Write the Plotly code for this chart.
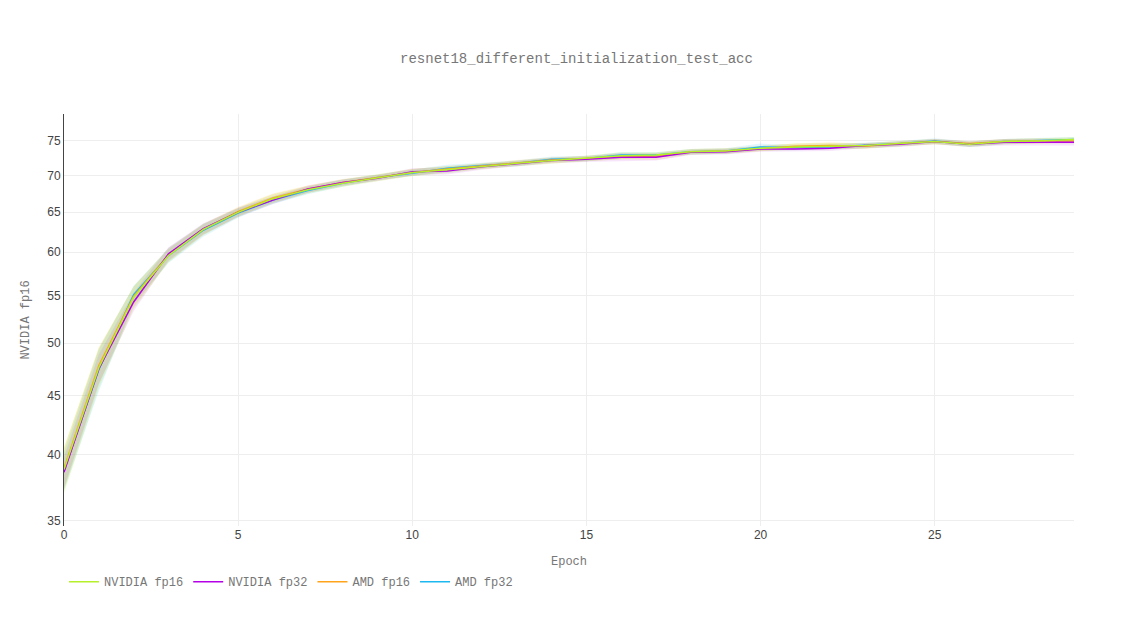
import plotly.graph_objects as go

epochs = list(range(30))

nv16 = [38.8, 47.6, 54.8, 59.6, 62.8, 65.0, 66.8, 68.0, 68.9, 69.6, 70.4, 70.8, 71.3, 71.7, 72.1, 72.4, 72.8, 72.9, 73.4, 73.5, 73.9, 74.1, 74.2, 74.3, 74.6, 74.9, 74.5, 74.9, 75.0, 75.2]
nv32 = [38.6, 47.5, 54.3, 59.8, 62.9, 65.0, 66.6, 68.1, 69.0, 69.6, 70.5, 70.6, 71.2, 71.6, 72.1, 72.3, 72.6, 72.6, 73.3, 73.4, 73.8, 73.8, 73.9, 74.3, 74.5, 74.9, 74.5, 74.8, 74.8, 74.8]
amd16 = [38.9, 47.8, 54.9, 59.7, 62.8, 65.1, 66.9, 68.1, 69.0, 69.7, 70.4, 70.9, 71.3, 71.8, 72.2, 72.4, 72.7, 72.7, 73.4, 73.5, 73.9, 74.2, 74.3, 74.2, 74.6, 74.9, 74.6, 74.9, 75.0, 75.0]
amd32 = [38.7, 47.4, 55.1, 59.6, 62.7, 64.9, 66.6, 67.9, 68.9, 69.7, 70.3, 71.0, 71.4, 71.7, 72.3, 72.4, 72.9, 72.9, 73.4, 73.5, 74.1, 74.0, 74.1, 74.3, 74.6, 75.0, 74.5, 74.9, 75.1, 75.2]

nv16_sd = [1.8, 1.9, 1.2, 0.8, 0.7, 0.6, 0.6, 0.5, 0.5, 0.5, 0.5, 0.5, 0.4, 0.4, 0.4, 0.4, 0.5, 0.4, 0.4, 0.4, 0.4, 0.5, 0.5, 0.4, 0.4, 0.4, 0.4, 0.4, 0.4, 0.4]
nv32_sd = [1.2, 1.4, 1.0, 0.8, 0.7, 0.6, 0.5, 0.5, 0.4, 0.4, 0.5, 0.5, 0.4, 0.4, 0.4, 0.4, 0.6, 0.5, 0.4, 0.4, 0.4, 0.4, 0.4, 0.4, 0.4, 0.4, 0.4, 0.5, 0.5, 0.5]
amd16_sd = [1.6, 1.8, 1.1, 0.8, 0.7, 0.6, 0.6, 0.5, 0.5, 0.4, 0.5, 0.4, 0.4, 0.4, 0.4, 0.4, 0.4, 0.5, 0.4, 0.4, 0.4, 0.4, 0.5, 0.4, 0.4, 0.4, 0.4, 0.4, 0.4, 0.4]
amd32_sd = [1.5, 2.0, 1.0, 0.9, 0.8, 0.6, 0.5, 0.5, 0.5, 0.4, 0.4, 0.5, 0.4, 0.4, 0.4, 0.4, 0.4, 0.4, 0.4, 0.4, 0.5, 0.4, 0.4, 0.4, 0.4, 0.4, 0.4, 0.4, 0.4, 0.4]

names = ["NVIDIA fp16", "NVIDIA fp32", "AMD fp16", "AMD fp32"]
means = [nv16, nv32, amd16, amd32]
sds = [nv16_sd, nv32_sd, amd16_sd, amd32_sd]
colors = ["#b5f02a", "#b300e6", "#ffa41b", "#1cb8f0"]
fills = ["rgba(181,240,42,0.2)", "rgba(179,0,230,0.1)", "rgba(255,164,27,0.15)", "rgba(28,184,240,0.12)"]

fig = go.Figure()
for n, m, s, c, f in zip(names, means, sds, colors, fills):
    fig.add_trace(go.Scatter(x=epochs, y=[a + b for a, b in zip(m, s)], mode="lines",
                             line=dict(width=0), showlegend=False, hoverinfo="skip"))
    fig.add_trace(go.Scatter(x=epochs, y=[a - b for a, b in zip(m, s)], mode="lines",
                             line=dict(width=0), fill="tonexty", fillcolor=f,
                             showlegend=False, hoverinfo="skip"))
# lines drawn last so bands sit underneath
for n, m, c in reversed(list(zip(names, means, colors))):
    fig.add_trace(go.Scatter(x=epochs, y=m, mode="lines", name=n, line=dict(color=c, width=1.5)))

mono = "Liberation Mono, Courier New, monospace"
fig.update_layout(
    width=1137, height=640,
    plot_bgcolor="white", paper_bgcolor="white",
    margin=dict(l=56, r=71, t=106, b=122),
    title=dict(text="resnet18_different_initialization_test_acc", x=0.5, y=0.93,
               font=dict(family=mono, size=14, color="#777")),
    xaxis=dict(title=dict(text="Epoch", font=dict(family=mono, size=12, color="#777")),
               range=[0, 29], tickvals=[0, 5, 10, 15, 20, 25], showgrid=True,
               gridcolor="#eee", zeroline=False, showline=False,
               tickfont=dict(family="Arial", size=12, color="#444")),
    yaxis=dict(title=dict(text="NVIDIA fp16", font=dict(family=mono, size=12, color="#777")),
               type="log", range=[1.5397, 1.8985],
               tickvals=[35, 40, 45, 50, 55, 60, 65, 70, 75], showgrid=True,
               gridcolor="#eee", zeroline=False, showline=True, linecolor="#444",
               linewidth=1, tickfont=dict(family="Arial", size=12, color="#444")),
    legend=dict(orientation="h", x=0, y=-0.1, xanchor="left", yanchor="top",
                traceorder="reversed", font=dict(family=mono, size=12, color="#777")),
)

fig.write_html("out.html")
